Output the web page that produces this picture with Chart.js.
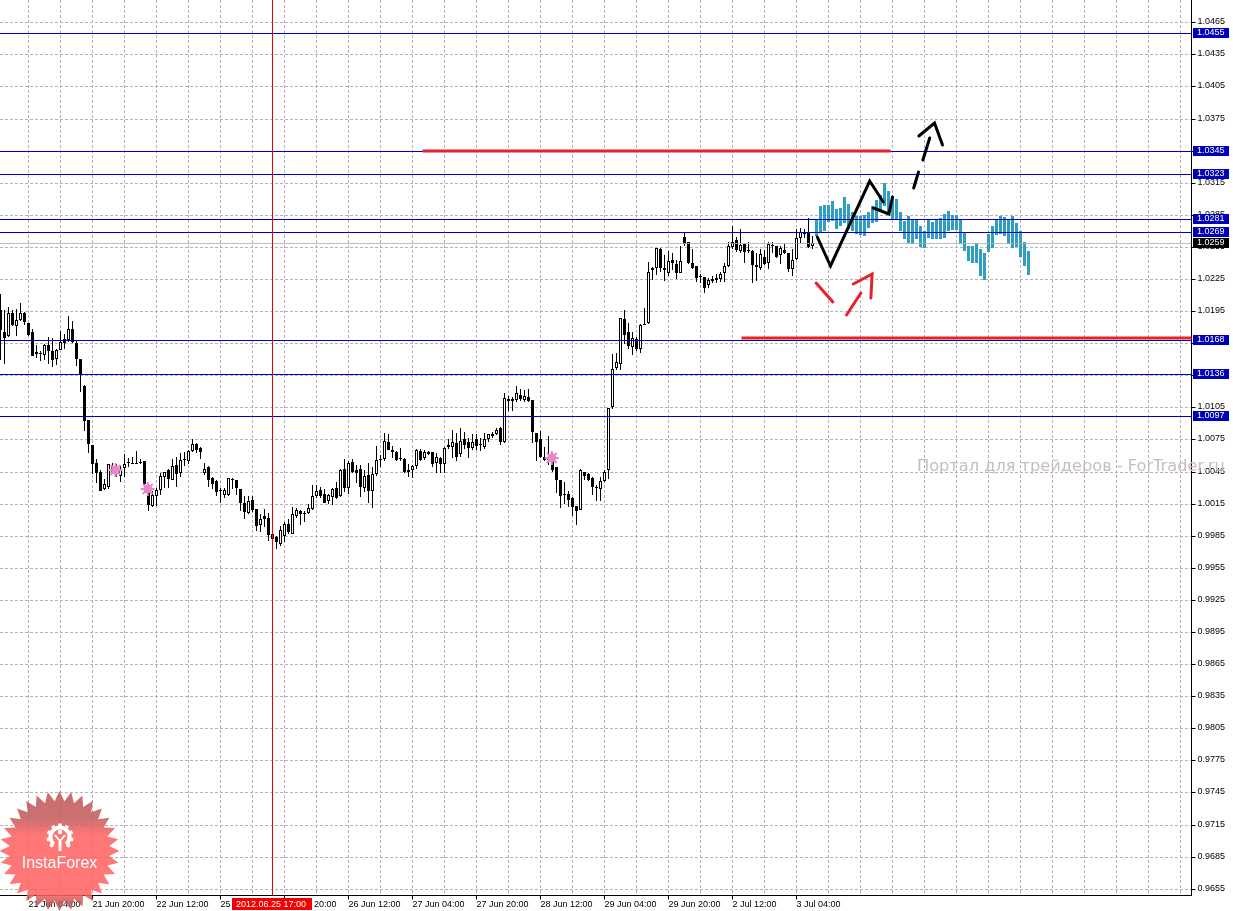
<!DOCTYPE html>
<html><head><meta charset="utf-8">
<style>html,body{margin:0;padding:0;background:#fff;overflow:hidden;width:1233px;height:911px}
canvas{position:absolute;left:-40px;top:0}</style>
<script src="https://cdn.jsdelivr.net/npm/chart.js@4"></script></head>
<body><canvas id="c" width="1273" height="911"></canvas>
<script>
const opens=[1.0196,1.0175,1.0172,1.0193,1.0181,1.0187,1.0193,1.0184,1.0175,1.0155,
1.0156,1.0154,1.0163,1.0158,1.0150,1.0159,1.0169,1.0168,1.0178,1.0165,
1.0150,1.0125,1.0093,1.0070,1.0053,1.0045,1.0029,1.0031,1.0050,1.0049,
1.0041,1.0048,1.0054,1.0053,1.0053,1.0054,1.0055,1.0031,1.0013,1.0022,
1.0028,1.0040,1.0046,1.0037,1.0051,1.0044,1.0057,1.0055,1.0064,1.0071,
1.0067,1.0044,1.0049,1.0039,1.0036,1.0028,1.0023,1.0023,1.0038,1.0037,
1.0029,1.0016,1.0006,1.0018,1.0010,0.9995,1.0003,1.0002,0.9987,0.9984,
0.9977,0.9985,0.9996,0.9987,1.0003,
1.0008,1.0006,1.0006,1.0010,1.0022,1.0028,1.0024,1.0017,1.0021,1.0030,
1.0022,1.0047,1.0030,1.0054,1.0046,1.0047,1.0030,1.0042,1.0027,1.0043,
1.0057,1.0057,1.0073,1.0065,1.0063,1.0058,1.0057,1.0046,1.0046,1.0050,
1.0064,1.0058,1.0061,1.0063,1.0053,1.0058,1.0052,1.0068,1.0068,1.0072,
1.0061,1.0075,1.0073,1.0067,1.0075,1.0071,1.0068,1.0075,1.0078,1.0080,
1.0086,1.0073,1.0113,1.0113,1.0112,1.0117,1.0112,1.0115,1.0112,1.0081,
1.0075,1.0059,1.0059,1.0054,1.0049,1.0037,1.0024,1.0024,1.0020,1.0013,
1.0009,1.0045,1.0043,1.0039,1.0031,1.0029,1.0036,1.0046,1.0105,1.0142,
1.0146,1.0188,1.0175,1.0161,1.0169,1.0160,1.0183,1.0184,1.0235,1.0235,
1.0253,1.0235,1.0231,1.0243,1.0239,1.0231,1.0264,1.0260,1.0240,1.0237,
1.0227,1.0227,1.0219,1.0223,1.0226,1.0225,1.0231,1.0237,1.0255,1.0261,
1.0251,1.0258,1.0252,1.0251,1.0238,1.0235,1.0246,1.0240,1.0257,1.0256,
1.0247,1.0252,1.0249,1.0234,1.0244,1.0263,1.0268,1.0269,1.0256];
const highs=[1.0211,1.0196,1.0199,1.0196,1.0197,1.0203,1.0194,1.0184,1.0178,1.0163,
1.0158,1.0164,1.0171,1.0170,1.0160,1.0176,1.0174,1.0190,1.0186,1.0168,
1.0150,1.0126,1.0093,1.0070,1.0057,1.0046,1.0038,1.0052,1.0053,1.0052,
1.0051,1.0061,1.0058,1.0059,1.0064,1.0057,1.0055,1.0033,1.0027,1.0030,
1.0044,1.0045,1.0047,1.0057,1.0059,1.0062,1.0063,1.0065,1.0075,1.0072,
1.0068,1.0053,1.0050,1.0040,1.0037,1.0030,1.0030,1.0039,1.0039,1.0037,
1.0029,1.0022,1.0022,1.0022,1.0010,1.0005,1.0010,1.0006,0.9987,0.9985,
0.9994,0.9998,1.0001,1.0012,1.0011,
1.0009,1.0008,1.0015,1.0032,1.0032,1.0031,1.0029,1.0024,1.0030,1.0035,
1.0047,1.0057,1.0055,1.0057,1.0051,1.0051,1.0046,1.0053,1.0049,1.0069,
1.0060,1.0081,1.0080,1.0069,1.0064,1.0067,1.0058,1.0052,1.0051,1.0066,
1.0066,1.0065,1.0064,1.0063,1.0062,1.0059,1.0068,1.0075,1.0084,1.0081,
1.0086,1.0082,1.0076,1.0080,1.0080,1.0076,1.0081,1.0080,1.0082,1.0086,
1.0087,1.0118,1.0116,1.0115,1.0125,1.0122,1.0121,1.0122,1.0112,1.0081,
1.0083,1.0068,1.0078,1.0062,1.0049,1.0037,1.0035,1.0027,1.0021,1.0013,
1.0047,1.0045,1.0044,1.0040,1.0032,1.0040,1.0046,1.0104,1.0155,1.0156,
1.0189,1.0196,1.0184,1.0175,1.0171,1.0183,1.0198,1.0241,1.0236,1.0254,
1.0254,1.0247,1.0251,1.0249,1.0243,1.0256,1.0268,1.0260,1.0253,1.0237,
1.0230,1.0227,1.0226,1.0228,1.0230,1.0232,1.0240,1.0260,1.0275,1.0264,
1.0272,1.0259,1.0260,1.0252,1.0249,1.0253,1.0252,1.0260,1.0260,1.0256,
1.0256,1.0258,1.0249,1.0253,1.0272,1.0273,1.0272,1.0282,1.0265];
const lows=[1.0149,1.0146,1.0171,1.0181,1.0172,1.0186,1.0182,1.0172,1.0153,1.0151,
1.0148,1.0149,1.0146,1.0143,1.0145,1.0159,1.0160,1.0166,1.0165,1.0144,
1.0119,1.0083,1.0062,1.0043,1.0034,1.0027,1.0028,1.0029,1.0044,1.0040,
1.0035,1.0040,1.0049,1.0052,1.0052,1.0052,1.0030,1.0008,1.0012,1.0013,
1.0023,1.0030,1.0030,1.0037,1.0031,1.0040,1.0050,1.0052,1.0063,1.0062,
1.0057,1.0042,1.0031,1.0029,1.0022,1.0016,1.0020,1.0022,1.0029,1.0023,
1.0008,1.0001,1.0005,1.0007,0.9989,0.9988,0.9993,0.9980,0.9980,0.9973,
0.9975,0.9979,0.9987,0.9987,1.0002,
0.9995,0.9998,1.0005,1.0009,1.0020,1.0020,1.0016,1.0015,1.0014,1.0019,
1.0021,1.0026,1.0024,1.0044,1.0034,1.0021,1.0026,1.0016,1.0011,1.0041,
1.0049,1.0055,1.0065,1.0058,1.0055,1.0055,1.0044,1.0040,1.0039,1.0047,
1.0055,1.0056,1.0060,1.0049,1.0044,1.0044,1.0044,1.0066,1.0058,1.0055,
1.0059,1.0066,1.0058,1.0065,1.0065,1.0064,1.0066,1.0073,1.0076,1.0079,
1.0070,1.0072,1.0102,1.0102,1.0110,1.0111,1.0110,1.0110,1.0072,1.0055,
1.0058,1.0055,1.0051,1.0045,1.0025,1.0011,1.0015,1.0012,1.0003,0.9995,
1.0009,1.0037,1.0036,1.0023,1.0017,1.0017,1.0035,1.0038,1.0103,1.0140,
1.0140,1.0164,1.0160,1.0154,1.0158,1.0156,1.0182,1.0183,1.0224,1.0229,
1.0232,1.0223,1.0228,1.0233,1.0225,1.0231,1.0256,1.0239,1.0234,1.0222,
1.0221,1.0212,1.0217,1.0221,1.0221,1.0222,1.0222,1.0236,1.0253,1.0250,
1.0249,1.0240,1.0249,1.0221,1.0223,1.0233,1.0238,1.0234,1.0249,1.0245,
1.0239,1.0248,1.0232,1.0228,1.0243,1.0258,1.0263,1.0254,1.0253];
const closes=[1.0177,1.0170,1.0193,1.0182,1.0187,1.0193,1.0185,1.0173,1.0153,1.0157,
1.0155,1.0163,1.0158,1.0149,1.0159,1.0166,1.0165,1.0178,1.0166,1.0150,
1.0135,1.0092,1.0071,1.0052,1.0044,1.0027,1.0033,1.0052,1.0045,1.0046,
1.0047,1.0052,1.0053,1.0052,1.0052,1.0053,1.0033,1.0014,1.0023,1.0028,
1.0041,1.0045,1.0038,1.0050,1.0043,1.0056,1.0056,1.0064,1.0071,1.0065,
1.0063,1.0047,1.0037,1.0033,1.0026,1.0027,1.0028,1.0039,1.0037,1.0030,
1.0016,1.0007,1.0017,1.0009,0.9994,1.0001,1.0001,0.9986,0.9982,0.9979,
0.9990,0.9996,0.9988,1.0005,1.0009,
1.0005,1.0005,1.0011,1.0022,1.0027,1.0022,1.0016,1.0023,1.0029,1.0020,
1.0046,1.0030,1.0053,1.0045,1.0044,1.0031,1.0041,1.0027,1.0043,1.0056,
1.0056,1.0074,1.0065,1.0063,1.0056,1.0057,1.0045,1.0045,1.0050,1.0065,
1.0056,1.0063,1.0063,1.0052,1.0059,1.0052,1.0067,1.0070,1.0073,1.0059,
1.0074,1.0070,1.0067,1.0073,1.0069,1.0070,1.0075,1.0080,1.0080,1.0084,
1.0073,1.0114,1.0111,1.0111,1.0118,1.0113,1.0116,1.0111,1.0082,1.0073,
1.0059,1.0056,1.0056,1.0046,1.0037,1.0022,1.0023,1.0018,1.0012,1.0008,
1.0046,1.0041,1.0037,1.0031,1.0030,1.0036,1.0045,1.0104,1.0141,1.0147,
1.0189,1.0173,1.0162,1.0170,1.0160,1.0182,1.0182,1.0232,1.0233,1.0254,
1.0235,1.0233,1.0242,1.0240,1.0231,1.0242,1.0258,1.0240,1.0235,1.0226,
1.0227,1.0217,1.0224,1.0225,1.0224,1.0230,1.0237,1.0256,1.0260,1.0252,
1.0257,1.0250,1.0251,1.0238,1.0236,1.0248,1.0239,1.0258,1.0256,1.0246,
1.0254,1.0249,1.0234,1.0243,1.0263,1.0269,1.0267,1.0255,1.0259];
const forecastStart=204;
const forecastHighs=[1.0281,1.0293,1.0294,1.0294,1.0298,1.0290,1.0291,1.0302,1.0295,1.0288,
1.0284,1.0284,1.0285,1.0288,1.0293,1.0299,1.0304,1.0315,1.0307,1.0302,
1.0300,1.0288,1.0279,1.0284,1.0281,1.0280,1.0275,1.0270,1.0281,1.0278,
1.0281,1.0282,1.0286,1.0289,1.0285,1.0285,1.0281,1.0268,1.0256,1.0256,
1.0259,1.0253,1.0249,1.0267,1.0275,1.0280,1.0284,1.0283,1.0280,1.0284,
1.0277,1.0270,1.0260,1.0251];
const forecastLows=[1.0265,1.0269,1.0270,1.0278,1.0279,1.0272,1.0275,1.0277,1.0272,1.0270,
1.0267,1.0266,1.0265,1.0273,1.0277,1.0278,1.0288,1.0293,1.0285,1.0281,
1.0280,1.0270,1.0262,1.0259,1.0258,1.0262,1.0255,1.0254,1.0263,1.0262,
1.0262,1.0262,1.0263,1.0270,1.0271,1.0271,1.0258,1.0251,1.0242,1.0240,
1.0240,1.0228,1.0224,1.0250,1.0254,1.0266,1.0267,1.0265,1.0258,1.0254,
1.0255,1.0246,1.0237,1.0229];
const levelPrices=[1.0455,1.0345,1.0323,1.0281,1.0269,1.0168,1.0136,1.0097];
const lastPrice=1.0259;
const cursorBar=68, cursorLabel="2012.06.25 17:00";
const tickBars=[-9,7,23,39,55,71,87,103,119,135,151,167,183,199];
const tickLabels=["20 Jun 12:00","21 Jun 04:00","21 Jun 20:00","22 Jun 12:00","25 Jun 04:00","25 Jun 20:00","26 Jun 12:00","27 Jun 04:00","27 Jun 20:00","28 Jun 12:00","29 Jun 04:00","29 Jun 20:00","2 Jul 12:00","3 Jul 04:00"];
const markerBars=[28.75,36.8,137.8], markerPrices=[1.0046,1.0029,1.0058];
const redLevelBars=[[105.5,222.5],[185.25,297.75]], redLevelPrices=[1.03444,1.0170];
const waveBars=[[204.2,207.5,217.3,220.7],[218.2,222.1,223]];
const wavePrices=[[1.02642,1.02371,1.03163,1.02969],[1.02917,1.02854,1.03016]];
const dashBars=[[228.3,229.5],[230.6,232.3],[229.6,233.5,235.5]];
const dashPrices=[[1.03104,1.0325],[1.03359,1.03568],[1.03584,1.03708,1.03506]];
const redArrowBars=[[203.9,208.1],[211.5,215.1],[213.2,217.9,217.6]];
const redArrowPrices=[[1.02212,1.02031],[1.0191,1.02118],[1.02199,1.02296,1.02075]];
const watermark="Портал для трейдеров - ForTrader.ru", logoText="InstaForex";

const xMin=-10.125,xMax=297.75,yMax=1.048585,yMin=0.964862;
const zip=(xs,ys)=>xs.map((x,i)=>({x,y:ys[i]}));
const line=(xs,ys,o)=>Object.assign({type:'line',data:zip(xs,ys),pointRadius:0,tension:0,borderCapStyle:'round',borderJoinStyle:'miter',borderWidth:1},o);
const datasets=[];
datasets.push({data:highs.map((h,i)=>({x:i,y:[lows[i],h]})),backgroundColor:'#000',barThickness:1,inflateAmount:0,order:20});
datasets.push({data:opens.map((o,i)=>({x:i,y:[Math.min(o,closes[i]),Math.max(o,closes[i])]})),
  backgroundColor:opens.map((o,i)=>closes[i]>o?'#fff':'#000'),borderColor:'#000',borderWidth:1,borderSkipped:false,minBarLength:1,barThickness:3,inflateAmount:0,order:19});
datasets.push({data:forecastHighs.map((h,i)=>({x:forecastStart+i,y:[forecastLows[i],h]})),backgroundColor:'#2f9fc0',barThickness:3,inflateAmount:0,order:18});
levelPrices.forEach(p=>datasets.push(line([xMin,xMax],[p,p],{borderColor:'#0000c8',crisp:true,order:10})));
datasets.push(line([xMin,xMax],[lastPrice,lastPrice],{borderColor:'#b0b0b0',borderDash:[1,1],crisp:true,order:11}));
datasets.push(line([cursorBar,cursorBar],[yMin,yMax],{borderColor:'#f00000',order:9}));
redLevelBars.forEach((b,i)=>datasets.push(line(b,[redLevelPrices[i],redLevelPrices[i]],{borderColor:'#e8202c',borderWidth:3,borderCapStyle:'butt',order:8})));
waveBars.forEach((b,i)=>datasets.push(line(b,wavePrices[i],{borderColor:'#000',borderWidth:3,order:6})));
dashBars.forEach((b,i)=>datasets.push(line(b,dashPrices[i],{borderColor:'#000',borderWidth:3,order:6})));
redArrowBars.forEach((b,i)=>datasets.push(line(b,redArrowPrices[i],{borderColor:'#e8202c',borderWidth:3,order:6})));
datasets.push(line(markerBars,markerPrices,{showLine:false,pointStyle:'circle',pointRadius:4,pointBackgroundColor:'#e383c4',pointBorderColor:'#e383c4',order:5}));
datasets.push(line(markerBars,markerPrices,{showLine:false,pointStyle:'star',pointRadius:7,pointBorderColor:'#e58ac8',pointBorderWidth:2,order:4}));

const axisFont={family:'"Liberation Sans"',size:9};
const overlay={id:'overlay',
 beforeDatasetDraw(c,a){if(c.data.datasets[a.index].crisp){c.ctx.save();c.ctx.translate(0,0.5);}},
 afterDatasetDraw(c,a){if(c.data.datasets[a.index].crisp){c.ctx.restore();}},
 afterDraw(c){
  const ctx=c.ctx,y=c.scales.y;
  ctx.save();ctx.translate(40,0);
  ctx.font='9px "Liberation Sans"';ctx.textBaseline='middle';ctx.textAlign='left';
  const box=(p,bg)=>{const py=y.getPixelForValue(p);ctx.fillStyle=bg;ctx.fillRect(1193,py-5,36,10);ctx.fillStyle='#fff';ctx.fillText(p.toFixed(4),1197,py);};
  levelPrices.forEach(p=>box(p,'#0000b8'));
  box(lastPrice,'#000');
  ctx.fillStyle='#f00000';ctx.fillRect(232,898,80,12);
  ctx.fillStyle='#fff';ctx.fillText(cursorLabel,236,904.5);
  ctx.font='16.2px "DejaVu Sans"';ctx.fillStyle='#c9bdb9';ctx.fillText(watermark,917,467);
  // logo
  const cx=59.5,cy=851,R=60,r=50,n=32;
  const g=ctx.createLinearGradient(0,792,0,911);
  g.addColorStop(0,'rgba(190,85,85,.85)');g.addColorStop(.22,'rgba(195,88,88,.85)');g.addColorStop(.36,'rgba(255,100,100,.88)');g.addColorStop(.86,'rgba(255,100,100,.88)');g.addColorStop(.93,'rgba(190,85,85,.85)');g.addColorStop(1,'rgba(190,85,85,.85)');
  ctx.beginPath();
  for(let i=0;i<n*2;i++){const a=i*Math.PI/n-Math.PI/2,q=i%2?r:R;ctx[i?'lineTo':'moveTo'](cx+q*Math.cos(a),cy+q*Math.sin(a));}
  ctx.closePath();ctx.fillStyle=g;ctx.fill();
  ctx.strokeStyle='#fff';ctx.fillStyle='#fff';
  const gx=60,gy=837;
  ctx.lineWidth=4;ctx.beginPath();ctx.arc(gx,gy,9.5,Math.PI*0.72,Math.PI*2.28);ctx.stroke();
  ctx.lineWidth=3.5;for(let i=0;i<9;i++){const a=Math.PI*0.75+i*Math.PI*1.5/8;ctx.beginPath();ctx.moveTo(gx+10*Math.cos(a),gy+10*Math.sin(a));ctx.lineTo(gx+13.5*Math.cos(a),gy+13.5*Math.sin(a));ctx.stroke();}
  ctx.beginPath();ctx.arc(gx,gy-5,2.2,0,7);ctx.fill();
  ctx.lineWidth=2;ctx.beginPath();ctx.moveTo(gx-5,gy-2);ctx.lineTo(gx-1,gy+3);ctx.moveTo(gx+5,gy-2);ctx.lineTo(gx+1,gy+3);ctx.stroke();
  ctx.lineWidth=3;ctx.beginPath();ctx.moveTo(gx,gy+2);ctx.lineTo(gx,gy+14);ctx.stroke();
  ctx.font='16px "Liberation Sans"';ctx.textAlign='center';ctx.fillText(logoText,59.5,864);
  ctx.restore();
 }};
new Chart(document.getElementById('c'),{type:'bar',data:{datasets},plugins:[overlay],options:{
 responsive:false,animation:false,events:[],
 layout:{padding:0,autoPadding:false},
 datasets:{bar:{grouped:false}},
 plugins:{legend:{display:false},tooltip:{enabled:false},title:{display:false}},
 scales:{
  x:{type:'linear',min:xMin,max:xMax,offset:false,position:'bottom',
   afterBuildTicks(s){const t=[];for(let k=-1;k<=xMax;k+=8)t.push({value:k});s.ticks=t;},
   afterFit(s){s.height=15.5;s.paddingLeft=0;s.paddingRight=0;},
   grid:{offset:false,color:'#bda9bd',lineWidth:1,tickLength:4,tickColor:c=>tickBars.includes(c.tick&&c.tick.value)?'#000':'rgba(0,0,0,0)',drawOnChartArea:true},
   border:{color:'#000',width:1,dash:[3,2]},
   ticks:{autoSkip:false,maxRotation:0,minRotation:0,align:'start',padding:0,color:'#000',font:axisFont,
    callback(v){const i=tickBars.indexOf(v);return i<0?'':tickLabels[i];}}},
  y:{type:'linear',position:'right',min:yMin,max:yMax,
   afterBuildTicks(s){const t=[];for(let n=0;n<=27;n++)t.push({value:1.0465-n*0.003});s.ticks=t;
     const f=Object.getPrototypeOf(s).getPixelForValue;s.getPixelForValue=v=>Math.round(f.call(s,v));},
   afterFit(s){s.width=41.5;s.paddingTop=0;s.paddingBottom=0;},
   grid:{color:'#afb8ac',lineWidth:1,tickLength:4,tickColor:'#000'},
   border:{color:'#000',width:1,dash:[3,2]},
   ticks:{padding:2,color:'#000',font:axisFont,autoSkip:false,callback:v=>v.toFixed(4)}}
 }}});
</script></body></html>
